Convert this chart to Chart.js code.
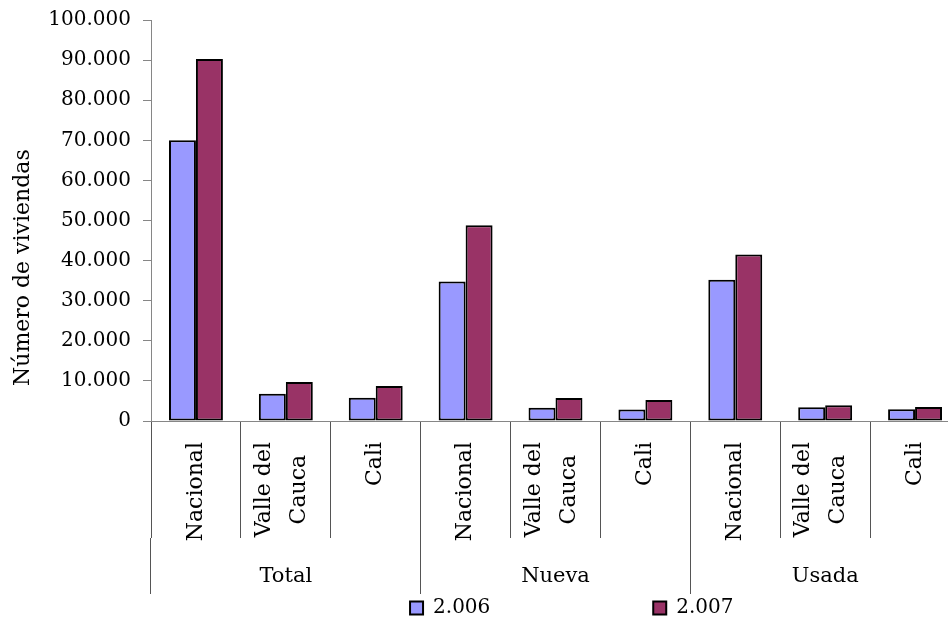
<!DOCTYPE html>
<html>
<head>
<meta charset="utf-8">
<title>Número de viviendas</title>
<script src="https://cdn.jsdelivr.net/npm/chart.js@4/dist/chart.umd.min.js"></script>
<style>
  html, body { margin: 0; padding: 0; background: #fff; overflow: hidden; }
  #wrap { width: 960px; height: 628px; }
</style>
</head>
<body>
<div id="wrap"><canvas id="viviendasChart" width="960" height="628"></canvas></div>
<script>
// Data
const groups = ['Total', 'Nueva', 'Usada'];
const places = ['Nacional', 'Valle del\nCauca', 'Cali'];
const categories = groups.flatMap(() => places);
const years = ['2.006', '2.007'];
const values2006 = [70000, 6800, 5800, 34800, 3300, 2850, 35250, 3400, 2900];
const values2007 = [90300, 9750, 8750, 48800, 5750, 5250, 41500, 3900, 3500];
const yMax = 100000;
const yStep = 10000;

const FONT = 'DejaVu Serif';
const axisGray = '#868686';
const sepColor = '#555555';

// trailing spaces spread the two legend entries apart
const legendGaps = [25, 35];

// rotated sub-category labels (Nacional / Valle del Cauca / Cali)
const subLabels = {
  id: 'subLabels',
  afterDraw(chart) {
    const { ctx } = chart;
    const xs = chart.scales.x;
    ctx.save();
    ctx.font = '22px "' + FONT + '"';
    ctx.fillStyle = '#000';
    ctx.textAlign = 'center';
    ctx.textBaseline = 'middle';
    categories.forEach((label, i) => {
      const lines = label.split('\n');
      const w = Math.max(...lines.map(l => ctx.measureText(l).width));
      ctx.save();
      ctx.translate(xs.getPixelForValue(i), xs.top + 21 + w / 2);
      ctx.rotate(-Math.PI / 2);
      lines.forEach((line, k) => {
        const off = (k - (lines.length - 1) / 2) * 35 - 4 * (lines.length - 1);
        ctx.fillText(line, 0, off);
      });
      ctx.restore();
    });
    ctx.restore();
  }
};

const ctx = document.getElementById('viviendasChart').getContext('2d');
new Chart(ctx, {
  type: 'bar',
  data: {
    labels: categories,
    datasets: [{
      label: years[0],
      data: values2006,
      backgroundColor: '#9999FF',
      borderColor: '#000',
      borderWidth: 2,
      borderSkipped: false
    }, {
      label: years[1],
      data: values2007,
      backgroundColor: '#993366',
      borderColor: '#000',
      borderWidth: 2,
      borderSkipped: false
    }]
  },
  options: {
    responsive: false,
    animation: false,
    layout: { padding: { top: 20, left: 0, right: 0, bottom: 0 } },
    datasets: {
      bar: { categoryPercentage: 0.6, barPercentage: 1.0 }
    },
    scales: {
      x: {
        type: 'category',
        position: 'bottom',
        weight: 0,
        offset: true,
        grid: { offset: true, drawOnChartArea: false, tickLength: 117, color: sepColor },
        border: { color: axisGray, width: 1 },
        ticks: { display: false },
        afterFit(s) { s.height = 117; }
      },
      xg: {
        type: 'category',
        position: 'bottom',
        weight: 1,
        labels: groups,
        offset: true,
        grid: { offset: true, drawOnChartArea: false, tickLength: 56, color: sepColor },
        border: { display: false },
        ticks: {
          autoSkip: false,
          maxRotation: 0,
          padding: -30,
          color: '#000',
          font: { family: FONT, size: 21 }
        },
        afterFit(s) { s.height = 56; }
      },
      y: {
        min: 0,
        max: yMax,
        ticks: {
          stepSize: yStep,
          padding: 12,
          color: '#000',
          font: { family: FONT, size: 20 },
          callback: v => String(v).replace(/\B(?=(\d{3})+(?!\d))/g, '.')
        },
        grid: { drawOnChartArea: false, tickLength: 8, color: axisGray },
        border: { color: axisGray, width: 1 },
        title: {
          display: true,
          text: '\u00a0'.repeat(5) + 'Número de viviendas',
          align: 'start',
          color: '#000',
          font: { family: FONT, size: 22 },
          padding: { top: 10, bottom: 0 }
        },
        afterFit(s) {
          s.width = 151;
          s.paddingTop = 0;
          s.paddingBottom = 0;
        }
      }
    },
    plugins: {
      legend: {
        position: 'bottom',
        align: 'end',
        labels: {
          boxWidth: 13,
          boxHeight: 13,
          padding: 4,
          color: '#000',
          font: { family: FONT, size: 20 },
          generateLabels(chart) {
            const items = Chart.defaults.plugins.legend.labels.generateLabels(chart);
            items.forEach((item, i) => { item.text = item.text + '\u00a0'.repeat(legendGaps[i]); });
            return items;
          }
        }
      },
      tooltip: { enabled: false }
    }
  },
  plugins: [subLabels]
});
</script>
</body>
</html>
